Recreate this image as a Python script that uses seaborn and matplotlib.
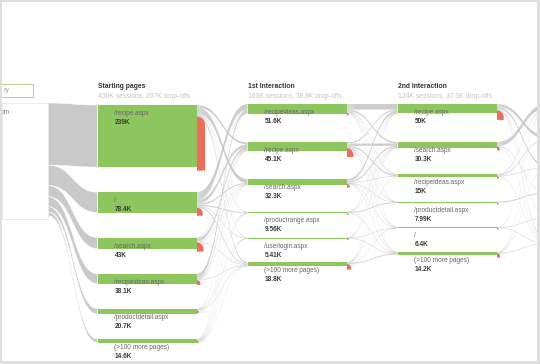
import matplotlib
matplotlib.use("Agg")
import matplotlib.pyplot as plt
from matplotlib.path import Path
from matplotlib.patches import PathPatch, Rectangle
import seaborn as sns

sns.set_theme(style="white")
plt.rcParams['font.family'] = ['Liberation Sans', 'DejaVu Sans']

# ---------------- data ----------------
col_titles = ["Starting pages", "1st Interaction", "2nd Interaction"]
col_stats = ["430K sessions, 267K drop-offs",
             "163K sessions, 38.8K drop-offs",
             "124K sessions, 37.3K drop-offs"]

start_pages = ["/recipe.aspx", "/", "/search.aspx", "/recipeideas.aspx",
               "/productdetail.aspx", "(>100 more pages)"]
start_sessions = [239, 78.4, 43, 38.1, 20.7, 14.6]
start_text = ["239K", "78.4K", "43K", "38.1K", "20.7K", "14.6K"]
start_drop = [195, 22, 25, 13, 7, 5]

first_pages = ["/recipeideas.aspx", "/recipe.aspx", "/search.aspx",
               "/productrange.aspx", "/userlogin.aspx", "(>100 more pages)"]
first_sessions = [51.6, 45.1, 32.3, 9.56, 5.41, 18.8]
first_text = ["51.6K", "45.1K", "32.3K", "9.56K", "5.41K", "18.8K"]
first_drop = [4, 14, 6, 3, 2.8, 9]

second_pages = ["/recipe.aspx", "/search.aspx", "/recipeideas.aspx",
                "/productdetail.aspx", "/", "(>100 more pages)"]
second_sessions = [50, 30.3, 15, 7.99, 6.4, 14.2]
second_text = ["50K", "30.3K", "15K", "7.99K", "6.4K", "14.2K"]
second_drop = [15, 6, 4, 3, 2.3, 7]

# (source index, target index, sessions K)
links_start_first = [
    (0, 1, 10), (0, 2, 22), (0, 3, 3), (0, 4, 2), (0, 5, 8),
    (1, 0, 30), (1, 1, 14), (1, 2, 5), (1, 3, 4), (1, 4, 2), (1, 5, 5),
    (2, 0, 3), (2, 1, 12), (2, 2, 2), (2, 5, 2),
    (3, 0, 16), (3, 1, 5), (3, 2, 2), (3, 5, 2),
    (4, 1, 2), (4, 3, 2), (4, 4, 1), (4, 5, 1.5),
    (5, 0, 2.6), (5, 1, 2.1), (5, 2, 1.3), (5, 3, 0.56), (5, 4, 0.41), (5, 5, 0.3),
]
links_first_second = [
    (0, 0, 30), (0, 1, 8), (0, 2, 4), (0, 3, 1.5), (0, 4, 1.5), (0, 5, 2.6),
    (1, 0, 6), (1, 1, 12), (1, 2, 7), (1, 3, 1), (1, 4, 1.6), (1, 5, 3.5),
    (2, 0, 12), (2, 1, 7), (2, 2, 2), (2, 3, 1), (2, 4, 1.8), (2, 5, 2.5),
    (3, 0, 1), (3, 1, 0.5), (3, 3, 4.49), (3, 5, 0.57),
    (4, 0, 0.5), (4, 1, 1), (4, 4, 0.5), (4, 5, 0.61),
    (5, 0, 0.5), (5, 1, 1.8), (5, 2, 2), (5, 4, 1), (5, 5, 4.42),
]
links_second_third = [
    (0, 1, 16), (0, 2, 10), (0, 4, 3), (0, 5, 6),
    (1, 0, 22), (1, 3, 1), (1, 5, 1.3),
    (2, 0, 4), (2, 1, 4), (2, 2, 2), (2, 5, 1),
    (3, 3, 4.99),
    (4, 0, 2), (4, 4, 1), (4, 5, 1.1),
    (5, 0, 2), (5, 1, 2), (5, 2, 1), (5, 5, 2.2),
]

# ---------------- style / layout ----------------
GREEN = "#8dc65c"
RED = "#ef6b5a"
LINK = "#c0c0c0"
SRC_GRAY = "#c9c9c9"
X_LEFT = 97.5
COL_STEP = 150
NODE_W = 99.5
BAR_SCALE = [0.26, 0.185, 0.185, 0.185]
SLOT_SCALE = [0.26, 0.30, 0.30, 0.30]
GAP = [25, 23, 23, 23]
TOP0 = [105, 104, 104, 104]
DROP_SCALE = [0.26, 0.45, 0.45]

third_sessions = [0.0] * 6
for s, t, v in links_second_third:
    third_sessions[t] += v

col_sessions = [start_sessions, first_sessions, second_sessions, third_sessions]


def layout(ci):
    vals = col_sessions[ci]
    tops, y = [], TOP0[ci]
    for v in vals:
        tops.append(y)
        y += v * SLOT_SCALE[ci] + GAP[ci]
    heights = [max(1.5, v * BAR_SCALE[ci]) for v in vals]
    return tops, heights


lay = [layout(c) for c in range(4)]
col_x = [X_LEFT + c * COL_STEP for c in range(4)]

fig = plt.figure(figsize=(5.4, 3.64), dpi=100)
ax = fig.add_axes([0, 0, 1, 1])
ax.set_xlim(0, 540)
ax.set_ylim(364, 0)
ax.axis("off")


def band(x0, y0, w0, x1, y1, w1, color, alpha=1.0, z=1, ec="none", lw=0):
    xm = (x0 + x1) / 2
    verts = [(x0, y0), (xm, y0), (xm, y1), (x1, y1), (x1, y1 + w1),
             (xm, y1 + w1), (xm, y0 + w0), (x0, y0 + w0), (x0, y0)]
    codes = [Path.MOVETO, Path.CURVE4, Path.CURVE4, Path.CURVE4, Path.LINETO,
             Path.CURVE4, Path.CURVE4, Path.CURVE4, Path.CLOSEPOLY]
    ax.add_patch(PathPatch(Path(verts, codes), facecolor=color, alpha=alpha,
                           zorder=z, edgecolor=ec, linewidth=lw))


def draw_links(links, ci):
    stops, _ = lay[ci]
    ttops, _ = lay[ci + 1]
    ss, ts = BAR_SCALE[ci], BAR_SCALE[ci + 1]
    x0 = col_x[ci] + NODE_W
    x1 = col_x[ci + 1]
    soff, toff = {}, {}
    out = [0.0] * 6
    for s, t, v in sorted(links, key=lambda l: (l[0], l[1])):
        soff[(s, t)] = out[s]
        out[s] += v * ss
    inn = [0.0] * 6
    for s, t, v in sorted(links, key=lambda l: (l[1], l[0])):
        toff[(s, t)] = inn[t]
        inn[t] += v * ts
    for s, t, v in links:
        band(x0, stops[s] + soff[(s, t)], max(0.5, v * ss),
             x1, ttops[t] + toff[(s, t)], max(0.5, v * ts),
             LINK, alpha=0.78, z=1)
    return out


outflow = [draw_links(links_start_first, 0),
           draw_links(links_first_second, 1),
           draw_links(links_second_third, 2)]

# entrance flows from the left panel into starting pages
stops, sh = lay[0]
ysrc = 103
for i in range(6):
    band(48, ysrc, sh[i], col_x[0], stops[i], sh[i], SRC_GRAY, z=1.5,
         ec="white", lw=0.4)
    ysrc += sh[i]


def drop_shape(x, y, h, c):
    w = min(8, max(1.5, h))
    H = h + w * 0.4
    r = min(w, H)
    k = 0.5523
    verts = [(x, y), (x + w - r, y), (x + w - r + r * k, y), (x + w, y + r - r * k),
             (x + w, y + r), (x + w, y + H), (x, y + H), (x, y)]
    codes = [Path.MOVETO, Path.LINETO, Path.CURVE4, Path.CURVE4, Path.CURVE4,
             Path.LINETO, Path.LINETO, Path.CLOSEPOLY]
    ax.add_patch(PathPatch(Path(verts, codes), facecolor=c, edgecolor="none", zorder=3))


col_pages = [start_pages, first_pages, second_pages]
col_text = [start_text, first_text, second_text]
col_drop = [start_drop, first_drop, second_drop]

for ci in range(3):
    tops, hs = lay[ci]
    x = col_x[ci]
    ax.bar([x] * 6, hs, width=NODE_W, bottom=tops, align="edge",
           color=GREEN, linewidth=0, zorder=2.5)
    for i in range(6):
        for k in range(5):
            ax.add_patch(Rectangle((x + NODE_W + 2 * k, tops[i]), 2, hs[i],
                                   facecolor="#dde2e8", alpha=0.55 * (1 - k / 5),
                                   edgecolor="none", zorder=2))
        drop_shape(x + NODE_W, tops[i] + outflow[ci][i],
                   col_drop[ci][i] * DROP_SCALE[ci], RED)
        ax.text(x + 17, tops[i] + 8.5, col_pages[ci][i], fontsize=4.7,
                color="#666666", va="center", ha="left", zorder=4)
        ax.text(x + 17, tops[i] + 17.5, col_text[ci][i], fontsize=4.7,
                color="#3a3a3a", va="center", ha="left", fontweight="bold", zorder=4)
    ax.text(x + 0.5, 87, col_titles[ci], fontsize=4.9, fontweight="bold",
            color="#333333", va="center", ha="left")
    ax.text(x + 0.5, 96.5, col_stats[ci], fontsize=4.9, color="#c4c4c4",
            va="center", ha="left")

# left panel
ax.add_patch(Rectangle((2, 103), 46, 116, facecolor="white", edgecolor="#e3e9ee",
                       linewidth=0.6, zorder=1.6))
ax.add_patch(Rectangle((1, 84), 32, 13, facecolor="white", edgecolor="#c6cc98",
                       linewidth=0.8, zorder=3))
ax.text(4, 90.8, "ry", fontsize=5, color="#a8a8a8", va="center", ha="left", zorder=4)
ax.text(0.5, 113, "om", fontsize=4.7, color="#8a8a8a", va="center", ha="left", zorder=4)

# outer frame
for r in [(0, 0, 2, 364), (0, 0, 540, 2), (537, 0, 3, 364), (0, 361, 540, 3)]:
    ax.add_patch(Rectangle(r[:2], r[2], r[3], facecolor="#dedede",
                           edgecolor="none", zorder=5))

fig.savefig("out.png", dpi=100)
